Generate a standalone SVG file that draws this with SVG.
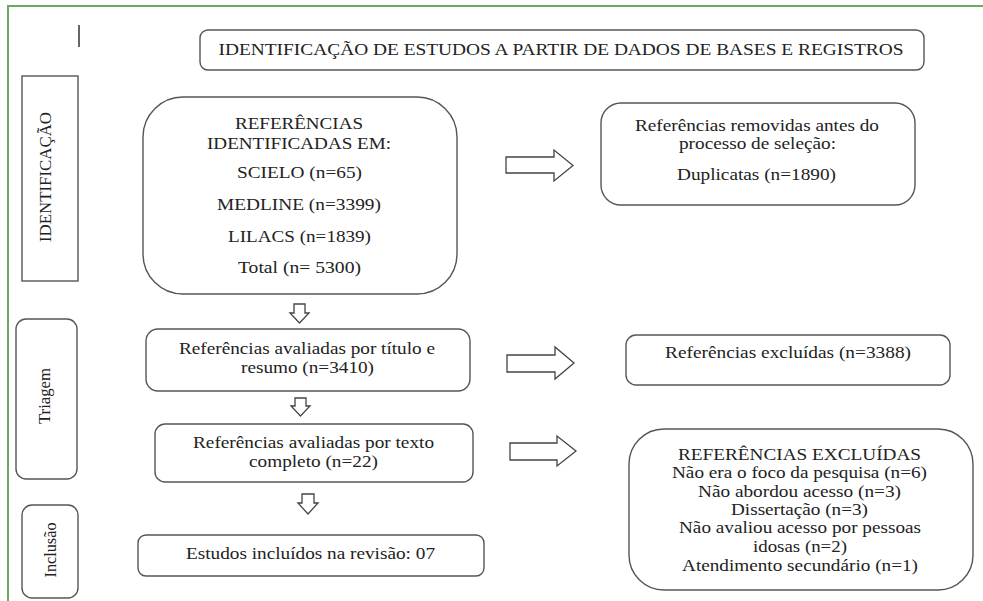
<svg xmlns="http://www.w3.org/2000/svg" width="983" height="601" viewBox="0 0 983 601">
<style>
.bg{fill:#ffffff}
.frame{stroke:#6aaa5e;stroke-width:2;fill:none}
.box{fill:#ffffff;stroke:#555555;stroke-width:1.4}
.arrow{fill:#ffffff;stroke:#444444;stroke-width:1.3;stroke-linejoin:miter}
.t{font-family:"Liberation Serif","Times New Roman",serif;font-size:17px;fill:#222222;text-anchor:middle}
</style>
<rect class="bg" x="0" y="0" width="983" height="601"/>
<path class="frame" d="M8,601 V6 H983"/>
<line x1="79" y1="25" x2="79" y2="47" stroke="#333333" stroke-width="1.5"/>

<g id="title">
<rect class="box" x="200" y="30" width="724" height="40" rx="8"/>
<text class="t" x="561" y="55" textLength="685" lengthAdjust="spacingAndGlyphs">IDENTIFICAÇÃO DE ESTUDOS A PARTIR DE DADOS DE BASES E REGISTROS</text>
</g>

<g id="stage-identificacao">
<rect class="box" x="22" y="76" width="56" height="205"/>
<text class="t" transform="translate(51,177) rotate(-90)" x="0" y="0" textLength="130" lengthAdjust="spacingAndGlyphs">IDENTIFICAÇÃO</text>
</g>

<g id="stage-triagem">
<rect class="box" x="16" y="319" width="61" height="160" rx="10"/>
<text class="t" transform="translate(50,396) rotate(-90)" x="0" y="0" textLength="56" lengthAdjust="spacingAndGlyphs">Triagem</text>
</g>

<g id="stage-inclusao">
<rect class="box" x="22" y="505" width="56" height="93" rx="10"/>
<text class="t" transform="translate(56,550) rotate(-90)" x="0" y="0" textLength="55" lengthAdjust="spacingAndGlyphs">Inclusão</text>
</g>

<g id="identified">
<rect class="box" x="143" y="97" width="314" height="197" rx="40"/>
<text class="t" x="299" y="129" textLength="128" lengthAdjust="spacingAndGlyphs">REFERÊNCIAS</text>
<text class="t" x="299" y="149" textLength="184" lengthAdjust="spacingAndGlyphs">IDENTIFICADAS EM:</text>
<text class="t" x="299.5" y="178" textLength="125" lengthAdjust="spacingAndGlyphs">SCIELO (n=65)</text>
<text class="t" x="299" y="210" textLength="164" lengthAdjust="spacingAndGlyphs">MEDLINE (n=3399)</text>
<text class="t" x="299.5" y="242" textLength="143" lengthAdjust="spacingAndGlyphs">LILACS (n=1839)</text>
<text class="t" x="299.5" y="273" textLength="123" lengthAdjust="spacingAndGlyphs">Total (n= 5300)</text>
</g>

<g id="removed">
<rect class="box" x="601" y="103" width="314" height="102" rx="20"/>
<text class="t" x="757" y="131" textLength="244" lengthAdjust="spacingAndGlyphs">Referências removidas antes do</text>
<text class="t" x="757.5" y="149" textLength="157" lengthAdjust="spacingAndGlyphs">processo de seleção:</text>
<text class="t" x="756.5" y="180" textLength="159" lengthAdjust="spacingAndGlyphs">Duplicatas (n=1890)</text>
</g>

<g id="screened">
<rect class="box" x="146" y="329" width="324" height="62" rx="12"/>
<text class="t" x="307" y="354" textLength="256" lengthAdjust="spacingAndGlyphs">Referências avaliadas por título e</text>
<text class="t" x="307.5" y="373" textLength="133" lengthAdjust="spacingAndGlyphs">resumo (n=3410)</text>
</g>

<g id="excluded-screening">
<rect class="box" x="626" y="335" width="324" height="50" rx="10"/>
<text class="t" x="788" y="358" textLength="246" lengthAdjust="spacingAndGlyphs">Referências excluídas (n=3388)</text>
</g>

<g id="fulltext">
<rect class="box" x="155" y="424" width="318" height="58" rx="10"/>
<text class="t" x="313.5" y="448" textLength="241" lengthAdjust="spacingAndGlyphs">Referências avaliadas por texto</text>
<text class="t" x="313.5" y="467" textLength="129" lengthAdjust="spacingAndGlyphs">completo (n=22)</text>
</g>

<g id="excluded-fulltext">
<rect class="box" x="629" y="429" width="344" height="161" rx="35"/>
<text class="t" x="799.5" y="460" textLength="243" lengthAdjust="spacingAndGlyphs">REFERÊNCIAS EXCLUÍDAS</text>
<text class="t" x="799.5" y="478" textLength="255" lengthAdjust="spacingAndGlyphs">Não era o foco da pesquisa (n=6)</text>
<text class="t" x="799.5" y="497" textLength="203" lengthAdjust="spacingAndGlyphs">Não abordou acesso (n=3)</text>
<text class="t" x="799.5" y="515" textLength="137" lengthAdjust="spacingAndGlyphs">Dissertação (n=3)</text>
<text class="t" x="800" y="533" textLength="242" lengthAdjust="spacingAndGlyphs">Não avaliou acesso por pessoas</text>
<text class="t" x="800" y="552" textLength="94" lengthAdjust="spacingAndGlyphs">idosas (n=2)</text>
<text class="t" x="800" y="571" textLength="236" lengthAdjust="spacingAndGlyphs">Atendimento secundário (n=1)</text>
</g>

<g id="included">
<rect class="box" x="138" y="535" width="346" height="41" rx="8"/>
<text class="t" x="310.5" y="559" textLength="249" lengthAdjust="spacingAndGlyphs">Estudos incluídos na revisão: 07</text>
</g>

<g id="connectors">
<path class="arrow" d="M506,157 H554 V150 L573,165.5 L554,181 V173 H506 Z"/>
<path class="arrow" d="M507,355 H555 V347 L574,363 L555,379 V372 H507 Z"/>
<path class="arrow" d="M510,443 H557 V436 L576,451 L557,466 V460 H510 Z"/>
<path class="arrow" d="M294,304 V313 H290 L299.5,323 L309,313 H305 V304 Z"/>
<path class="arrow" d="M295,398 V406 H291 L300.5,416 L310,406 H306 V398 Z"/>
<path class="arrow" d="M302,494 V503 H298 L308,514 L318,503 H314 V494 Z"/>
</g>
</svg>
